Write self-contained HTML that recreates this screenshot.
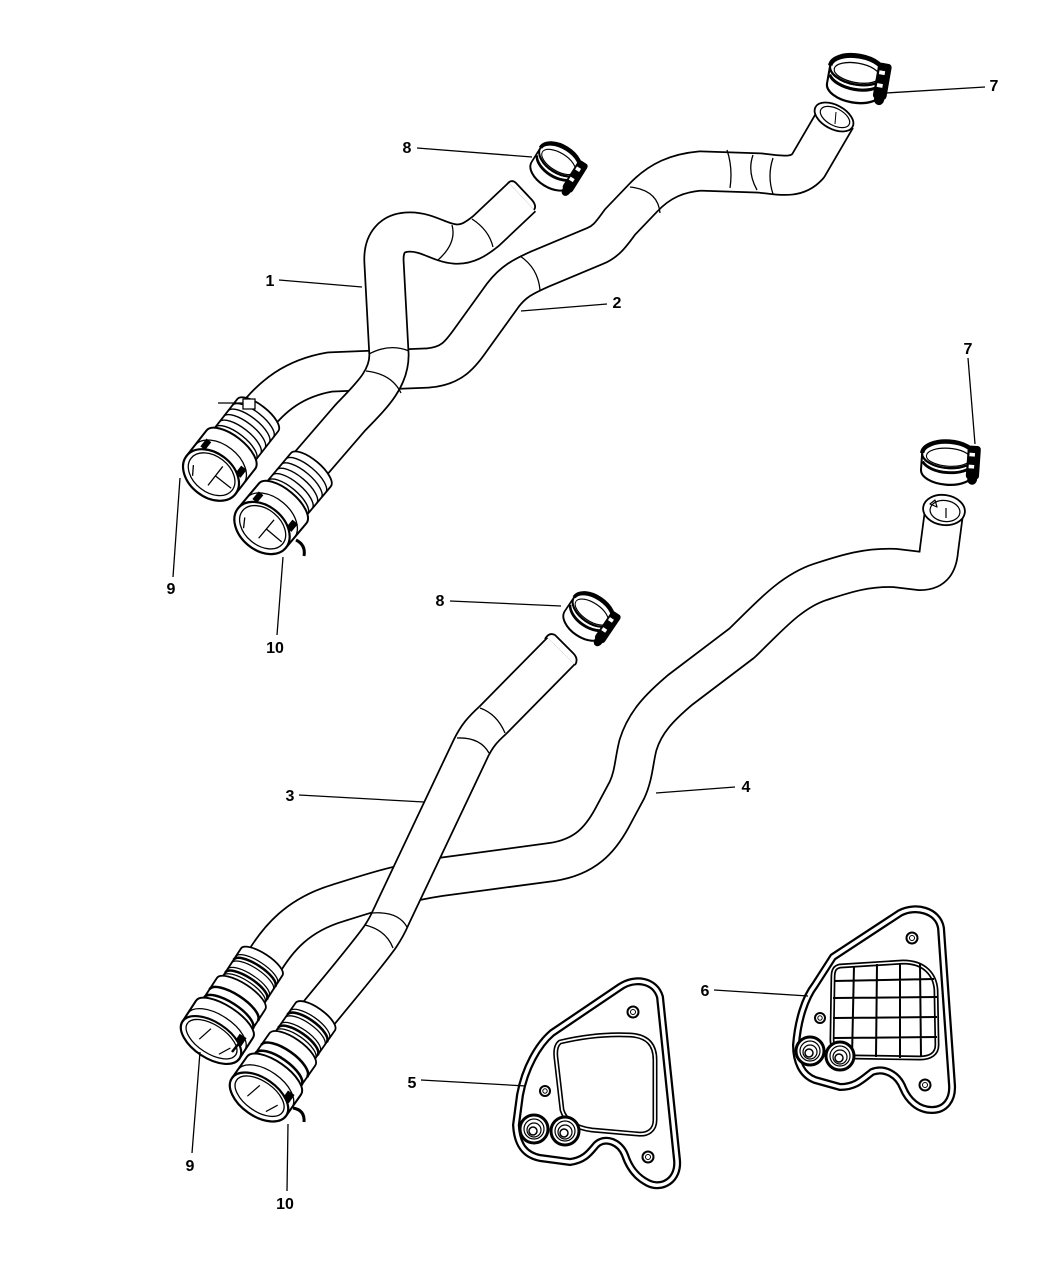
<!DOCTYPE html>
<html><head><meta charset="utf-8"><style>
html,body{margin:0;padding:0;background:#fff}
svg{display:block}
text{font-family:"Liberation Sans",Arial,sans-serif;font-weight:bold;font-size:16px;fill:#000}
</style></head><body>
<svg width="1050" height="1275" viewBox="0 0 1050 1275" xmlns="http://www.w3.org/2000/svg">
<defs>
 <g id="clamp">
  <path d="M -24 -6 A 24 11 0 0 0 24 -6 L 24 8 A 24 11 0 0 1 -24 8 Z" fill="#fff" stroke="#000" stroke-width="1.8"/>
  <path d="M -23 1 A 24 11 0 0 0 23 1" fill="none" stroke="#000" stroke-width="2.4"/>
  <ellipse cx="0" cy="-6" rx="24" ry="11" fill="#fff" stroke="#000" stroke-width="1.8"/>
  <path d="M -24 -6 A 24 11 0 0 1 24 -6" fill="none" stroke="#000" stroke-width="3.8"/>
  <ellipse cx="0" cy="-4" rx="20" ry="7.5" fill="none" stroke="#000" stroke-width="1"/>
  <rect x="17" y="-15" width="12" height="28" rx="3" fill="#000"/>
  <rect x="19" y="-9" width="5" height="3" fill="#fff"/>
  <rect x="19" y="1" width="5" height="3" fill="#fff"/>
  <circle cx="23" cy="13" r="4.5" fill="#000"/>
 </g>
 <g id="connA">
  <path d="M 30 -26 L 76 -26 A 10 26 0 0 1 76 26 L 30 26 Z" fill="#fff" stroke="#000" stroke-width="1.8"/>
  <path d="M 40 -26 A 10 26 0 0 1 40 26 M 47 -26 A 10 26 0 0 1 47 26 M 54 -26 A 10 26 0 0 1 54 26 M 61 -26 A 10 26 0 0 1 61 26 M 68 -26 A 10 26 0 0 1 68 26" fill="none" stroke="#000" stroke-width="1.4"/>
  <path d="M 0 -31 L 32 -31 A 14 31 0 0 1 32 31 L 0 31 Z" fill="#fff" stroke="#000" stroke-width="2"/>
  <path d="M 13 -31 A 20 31 0 0 1 13 31" fill="none" stroke="#000" stroke-width="1.3"/>
  <rect x="16" y="-26" width="10" height="6" fill="#000"/>
  <rect x="16" y="18" width="10" height="7" fill="#000"/>
  <ellipse cx="0" cy="0" rx="22" ry="31" fill="#fff" stroke="#000" stroke-width="2.2"/>
  <ellipse cx="1" cy="0" rx="18" ry="26" fill="#fff" stroke="#000" stroke-width="1.3"/>
  <path d="M -10 4 L 14 4 M 2 4 L 2 24 M -12 -14 L -3 -20" stroke="#000" stroke-width="1.3" fill="none"/>
 </g>
 <g id="connB">
  <path d="M 56 -24 L 98 -24 A 9 24 0 0 1 98 24 L 56 24 Z" fill="#fff" stroke="#000" stroke-width="1.8"/>
  <path d="M 64 -24 A 9 24 0 0 1 64 24 M 72 -24 A 9 24 0 0 1 72 24 M 80 -24 A 9 24 0 0 1 80 24 M 88 -24 A 9 24 0 0 1 88 24" fill="none" stroke="#000" stroke-width="1.3"/>
  <path d="M 68 -24 A 9 24 0 0 1 68 24 M 84 -24 A 9 24 0 0 1 84 24" fill="none" stroke="#000" stroke-width="2.6"/>
  <path d="M 24 -28 L 58 -28 A 11 28 0 0 1 58 28 L 24 28 Z" fill="#fff" stroke="#000" stroke-width="1.8"/>
  <path d="M 34 -28 A 11 28 0 0 1 34 28 M 44 -28 A 11 28 0 0 1 44 28" fill="none" stroke="#000" stroke-width="2.6"/>
  <path d="M 0 -33 L 26 -33 A 14 33 0 0 1 26 33 L 0 33 Z" fill="#fff" stroke="#000" stroke-width="2"/>
  <path d="M 10 -33 A 18 33 0 0 1 10 33" fill="none" stroke="#000" stroke-width="1.3"/>
  <rect x="12" y="20" width="10" height="8" fill="#000"/>
  <ellipse cx="0" cy="0" rx="19" ry="33" fill="#fff" stroke="#000" stroke-width="2.2"/>
  <ellipse cx="1" cy="0" rx="15" ry="28" fill="#fff" stroke="#000" stroke-width="1.3"/>
  <path d="M -6 -10 L 10 -6 M -8 14 L 4 20" stroke="#000" stroke-width="1.2" fill="none"/>
 </g>
</defs>

<g fill="none" stroke-linejoin="round">
 <path d="M 252 422 C 272 395, 295 378, 330 372 L 428 368 C 452 366, 460 355, 472 338 L 503 295 C 513 282, 522 277, 540 269 L 595 246 C 605 242, 610 236, 620 222 L 643 198 C 660 180, 678 173, 700 171 L 760 173 C 785 176, 797 178, 808 166 L 836 118" stroke="#000" stroke-width="41"/>
 <path d="M 252 422 C 272 395, 295 378, 330 372 L 428 368 C 452 366, 460 355, 472 338 L 503 295 C 513 282, 522 277, 540 269 L 595 246 C 605 242, 610 236, 620 222 L 643 198 C 660 180, 678 173, 700 171 L 760 173 C 785 176, 797 178, 808 166 L 836 118" stroke="#fff" stroke-width="37.5"/>
 <path d="M 520 256 Q 538 268 540 290 M 630 187 Q 658 190 660 213 M 727 150 Q 733 168 730 188 M 753 155 Q 747 172 757 190 M 773 158 Q 767 176 773 194" stroke="#000" stroke-width="1.3"/>
 <ellipse cx="834" cy="117" rx="21" ry="12" transform="rotate(28 834 117)" fill="#fff" stroke="#000" stroke-width="1.8"/>
 <ellipse cx="835" cy="117" rx="16" ry="8.5" transform="rotate(28 835 117)" fill="#fff" stroke="#000" stroke-width="1.2"/>
 <path d="M 836 112 L 835 124" stroke="#000" stroke-width="1"/>
</g>

<use href="#connA" transform="translate(211,475) rotate(-52)"/>
<path d="M 218 403 L 243 403 M 243 399 L 255 399 L 255 409 L 243 409 Z" fill="#fff" stroke="#000" stroke-width="1.3"/>

<g fill="none" stroke-linejoin="round">
 <path d="M 300 476 L 350 418 C 370 397, 389 380, 389 355 L 384 262 C 383 243, 392 232, 410 232 C 428 232, 440 243, 455 244 C 467 245, 476 239, 486 231 L 522 197" stroke="#000" stroke-width="41"/>
 <path d="M 300 476 L 350 418 C 370 397, 389 380, 389 355 L 384 262 C 383 243, 392 232, 410 232 C 428 232, 440 243, 455 244 C 467 245, 476 239, 486 231 L 522 197" stroke="#fff" stroke-width="37.5"/>
 <path d="M 369 354 Q 390 343 409 351 M 366 371 Q 392 374 401 393 M 452 225 Q 457 243 438 260 M 472 219 Q 489 230 493 247" stroke="#000" stroke-width="1.3"/>
 <path d="M 508 183 Q 512 179 516 183 L 532 200 Q 537 206 534 210" stroke="#000" stroke-width="1.8"/>
</g>

<use href="#connA" transform="translate(262,528) rotate(-50)"/>
<path d="M 296 540 Q 306 545 304 556" fill="none" stroke="#000" stroke-width="3"/>

<use href="#clamp" transform="translate(556,166) rotate(32) scale(0.95,1.2)"/>
<use href="#clamp" transform="translate(856,78) rotate(10) scale(1.15,1.3)"/>

<g fill="none" stroke-linejoin="round">
 <path d="M 262 965 C 278 938, 298 915, 338 903 C 370 893, 400 883, 440 877 L 552 862 C 585 857, 600 840, 612 818 L 627 790 C 634 775, 634 760, 638 745 C 645 722, 660 707, 680 690 L 742 643 C 768 618, 790 592, 820 582 C 845 574, 865 567, 895 568 L 920 571 C 934 571, 938 563, 939 550 L 944 512" stroke="#000" stroke-width="40"/>
 <path d="M 262 965 C 278 938, 298 915, 338 903 C 370 893, 400 883, 440 877 L 552 862 C 585 857, 600 840, 612 818 L 627 790 C 634 775, 634 760, 638 745 C 645 722, 660 707, 680 690 L 742 643 C 768 618, 790 592, 820 582 C 845 574, 865 567, 895 568 L 920 571 C 934 571, 938 563, 939 550 L 944 512" stroke="#fff" stroke-width="36.5"/>
 <ellipse cx="944" cy="510" rx="21" ry="15" transform="rotate(8 944 510)" fill="#fff" stroke="#000" stroke-width="1.8"/>
 <ellipse cx="945" cy="511" rx="15" ry="10.5" transform="rotate(8 945 511)" fill="#fff" stroke="#000" stroke-width="1.2"/>
 <path d="M 930 504 L 935 500 L 937 507 Z M 946 508 L 946 518" stroke="#000" stroke-width="1.2"/>
</g>

<use href="#connB" transform="translate(211,1040) rotate(-57) scale(0.95,1.03)"/>

<g fill="none" stroke-linejoin="round">
 <path d="M 310 1024 C 335 993, 365 958, 380 937 C 386 928, 388 924, 391 917 L 471 748 C 477 736, 482 730, 493 720 L 561 651" stroke="#000" stroke-width="40"/>
 <path d="M 310 1024 C 335 993, 365 958, 380 937 C 386 928, 388 924, 391 917 L 471 748 C 477 736, 482 730, 493 720 L 561 651" stroke="#fff" stroke-width="36.5"/>
 <path d="M 480 708 Q 497 714 505 733 M 457 738 Q 480 737 489 753 M 372 913 Q 398 911 407 927 M 365 925 Q 386 930 393 948" stroke="#000" stroke-width="1.3"/>
 <path d="M 545 639 Q 549 632 555 635 L 573 653 Q 579 659 575 665" stroke="#000" stroke-width="1.8"/>
</g>

<use href="#connB" transform="translate(259,1097) rotate(-55)"/>
<path d="M 293 1108 Q 305 1110 304 1122" fill="none" stroke="#000" stroke-width="3"/>
<path d="M 232 1052 L 240 1042" stroke="#000" stroke-width="2.5"/>

<use href="#clamp" transform="translate(948,462) rotate(4) scale(1.1,1.2)"/>
<use href="#clamp" transform="translate(589,616) rotate(34) scale(0.95,1.2)"/>

<g>
 <path d="M 520 1095 C 525 1068, 538 1045, 552 1033 L 620 987 C 635 977, 655 980, 660 997 L 677 1160 C 679 1180, 662 1190, 648 1183 C 638 1178, 630 1170, 625 1155 C 620 1142, 605 1136, 596 1145 C 590 1152, 585 1160, 570 1162 L 540 1158 C 525 1155, 517 1145, 516 1125 Z" fill="#fff" stroke="#000" stroke-width="8" stroke-linejoin="round"/>
 <path d="M 520 1095 C 525 1068, 538 1045, 552 1033 L 620 987 C 635 977, 655 980, 660 997 L 677 1160 C 679 1180, 662 1190, 648 1183 C 638 1178, 630 1170, 625 1155 C 620 1142, 605 1136, 596 1145 C 590 1152, 585 1160, 570 1162 L 540 1158 C 525 1155, 517 1145, 516 1125 Z" fill="none" stroke="#fff" stroke-width="3.5" stroke-linejoin="round"/>
 <path d="M 560 1042 C 585 1036, 610 1034, 630 1035 C 648 1036, 655 1045, 655 1060 L 655 1120 C 655 1130, 648 1135, 638 1134 L 592 1130 C 575 1128, 565 1120, 562 1110 L 556 1058 C 555 1050, 556 1045, 560 1042 Z" fill="none" stroke="#000" stroke-width="5"/>
 <path d="M 560 1042 C 585 1036, 610 1034, 630 1035 C 648 1036, 655 1045, 655 1060 L 655 1120 C 655 1130, 648 1135, 638 1134 L 592 1130 C 575 1128, 565 1120, 562 1110 L 556 1058 C 555 1050, 556 1045, 560 1042 Z" fill="none" stroke="#fff" stroke-width="1.8"/>
 <g fill="#fff" stroke="#000">
  <circle cx="633" cy="1012" r="5.5" stroke-width="2"/><circle cx="633" cy="1012" r="2.5" stroke-width="1"/>
  <circle cx="545" cy="1091" r="5" stroke-width="2"/><circle cx="545" cy="1091" r="2.2" stroke-width="1"/>
  <circle cx="648" cy="1157" r="5.5" stroke-width="2"/><circle cx="648" cy="1157" r="2.5" stroke-width="1"/>
  <circle cx="534" cy="1129" r="14" stroke-width="3"/><circle cx="534" cy="1129" r="10" stroke-width="1.2"/><circle cx="534" cy="1130" r="7" stroke-width="1.2"/><circle cx="533" cy="1131" r="4" stroke-width="1.5"/>
  <circle cx="565" cy="1131" r="14" stroke-width="3"/><circle cx="565" cy="1131" r="10" stroke-width="1.2"/><circle cx="565" cy="1132" r="7" stroke-width="1.2"/><circle cx="564" cy="1133" r="4" stroke-width="1.5"/>
 </g>
</g>

<g>
 <path d="M 796 1045 C 798 1020, 805 998, 815 985 L 833 957 L 900 913 C 915 905, 938 910, 941 928 L 952 1085 C 953 1100, 945 1110, 932 1110 C 918 1110, 908 1100, 903 1088 C 898 1075, 885 1067, 872 1072 C 862 1080, 855 1087, 840 1087 L 815 1080 C 802 1075, 796 1062, 796 1045 Z" fill="#fff" stroke="#000" stroke-width="8" stroke-linejoin="round"/>
 <path d="M 796 1045 C 798 1020, 805 998, 815 985 L 833 957 L 900 913 C 915 905, 938 910, 941 928 L 952 1085 C 953 1100, 945 1110, 932 1110 C 918 1110, 908 1100, 903 1088 C 898 1075, 885 1067, 872 1072 C 862 1080, 855 1087, 840 1087 L 815 1080 C 802 1075, 796 1062, 796 1045 Z" fill="none" stroke="#fff" stroke-width="3.5" stroke-linejoin="round"/>
 <path d="M 840 966 L 903 962 C 925 962, 935 975, 936 990 L 937 1045 C 937 1054, 930 1058, 920 1058 L 855 1057 C 840 1057, 832 1050, 832 1040 L 833 977 C 833 970, 835 967, 840 966 Z" fill="#fff" stroke="#000" stroke-width="5"/>
 <path d="M 840 966 L 903 962 C 925 962, 935 975, 936 990 L 937 1045 C 937 1054, 930 1058, 920 1058 L 855 1057 C 840 1057, 832 1050, 832 1040 L 833 977 C 833 970, 835 967, 840 966 Z" fill="none" stroke="#fff" stroke-width="1.6"/>
 <path d="M 854 966 L 852 1057 M 877 964 L 876 1057 M 900 963 L 900 1058 M 920 964 L 921 1057 M 834 981 L 934 979 M 833 998 L 937 997 M 833 1018 L 937 1017 M 833 1038 L 937 1037" stroke="#000" stroke-width="2" fill="none"/>
 <g fill="#fff" stroke="#000">
  <circle cx="912" cy="938" r="5.5" stroke-width="2"/><circle cx="912" cy="938" r="2.5" stroke-width="1"/>
  <circle cx="820" cy="1018" r="5" stroke-width="2"/><circle cx="820" cy="1018" r="2.2" stroke-width="1"/>
  <circle cx="925" cy="1085" r="5.5" stroke-width="2"/><circle cx="925" cy="1085" r="2.5" stroke-width="1"/>
  <circle cx="810" cy="1051" r="14" stroke-width="3"/><circle cx="810" cy="1051" r="10" stroke-width="1.2"/><circle cx="810" cy="1052" r="7" stroke-width="1.2"/><circle cx="809" cy="1053" r="4" stroke-width="1.5"/>
  <circle cx="840" cy="1056" r="14" stroke-width="3"/><circle cx="840" cy="1056" r="10" stroke-width="1.2"/><circle cx="840" cy="1057" r="7" stroke-width="1.2"/><circle cx="839" cy="1058" r="4" stroke-width="1.5"/>
 </g>
</g>

<g stroke="#000" stroke-width="1.3" fill="none">
 <path d="M 417 148 L 532 157"/>
 <path d="M 985 87 L 886 93"/>
 <path d="M 279 280 L 362 287"/>
 <path d="M 607 304 L 521 311"/>
 <path d="M 968 358 L 975 444"/>
 <path d="M 173 577 L 180 478"/>
 <path d="M 277 635 L 283 557"/>
 <path d="M 450 601 L 561 606"/>
 <path d="M 299 795 L 424 802"/>
 <path d="M 735 787 L 656 793"/>
 <path d="M 192 1153 L 200 1052"/>
 <path d="M 287 1191 L 288 1124"/>
 <path d="M 714 990 L 808 996"/>
 <path d="M 421 1080 L 526 1086"/>
</g>

<g text-anchor="middle">
 <text x="407" y="153">8</text>
 <text x="994" y="91">7</text>
 <text x="270" y="286">1</text>
 <text x="617" y="308">2</text>
 <text x="968" y="354">7</text>
 <text x="171" y="594">9</text>
 <text x="275" y="653">10</text>
 <text x="440" y="606">8</text>
 <text x="290" y="801">3</text>
 <text x="746" y="792">4</text>
 <text x="190" y="1171">9</text>
 <text x="285" y="1209">10</text>
 <text x="705" y="996">6</text>
 <text x="412" y="1088">5</text>
</g>
</svg>
</body></html>
